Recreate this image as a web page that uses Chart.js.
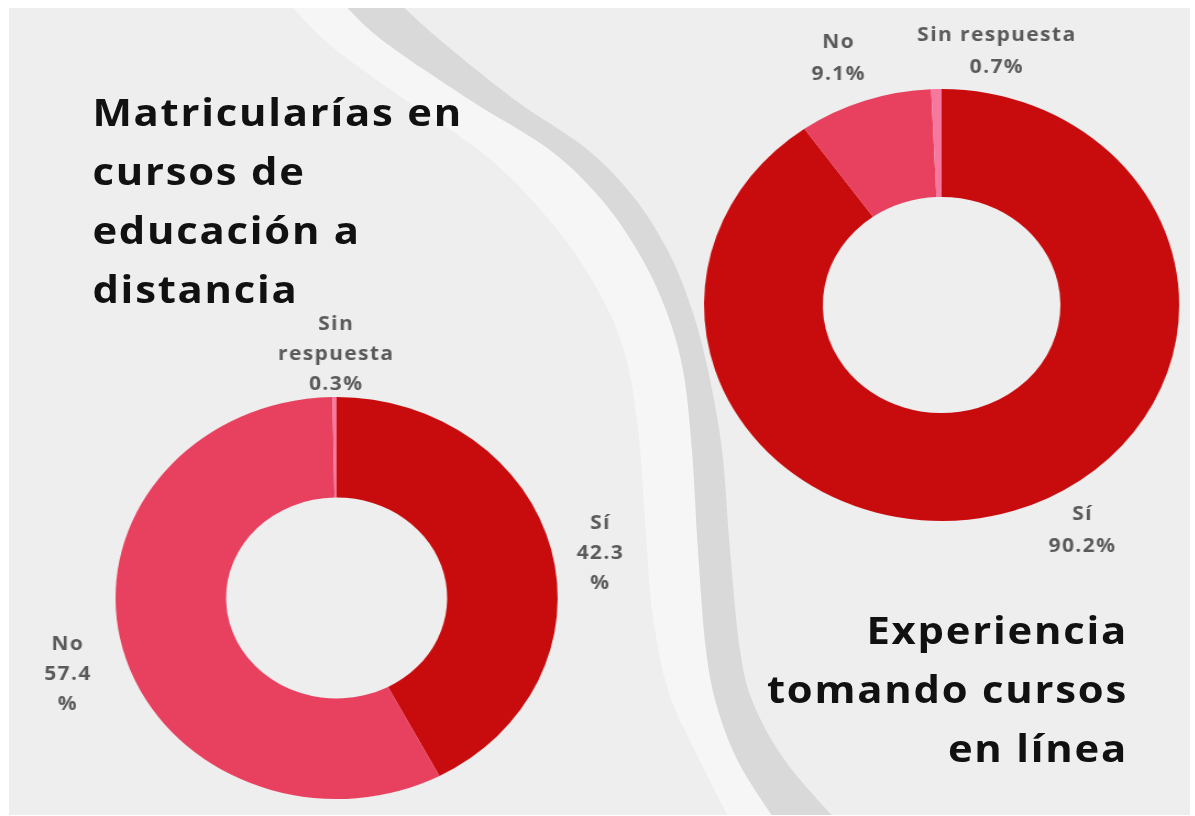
<!DOCTYPE html>
<html>
<head>
<meta charset="utf-8">
<script src="https://cdn.jsdelivr.net/npm/chart.js@4/dist/chart.umd.min.js"></script>
<style>
  html, body { margin: 0; padding: 0; background: #ffffff; overflow: hidden; width: 1195px; height: 816px; }
  #bg { position: absolute; left: 0; top: 0; }
  #stage { position: absolute; left: 0; top: 0; width: 1086.4px; height: 816px; transform: scaleX(1.1); transform-origin: 0 0; }
  .title { position: absolute; font-family: "Open Sans", sans-serif; font-weight: 700; font-size: 38px; line-height: 59px; color: #111; letter-spacing: 1.6px; white-space: nowrap; }
  #title1 { left: 84px; top: 82px; }
  #title2 { right: 61px; top: 600px; text-align: right; }
  .box { position: absolute; }
  #box1 { left: 6.4px; top: 298px; width: 600px; height: 600px; }
  #box2 { left: 536.4px; top: -15px; width: 640px; height: 640px; }
</style>
</head>
<body>
<canvas id="bg" width="1195" height="816"></canvas>
<div id="stage">
  <div class="title" id="title1">Matricularías en<br>cursos de<br>educación a<br>distancia</div>
  <div class="title" id="title2">Experiencia<br>tomando cursos<br>en línea</div>
  <div class="box" id="box1"><canvas id="chart1"></canvas></div>
  <div class="box" id="box2"><canvas id="chart2"></canvas></div>
</div>
<script>
// Chart data
const categories = ['Sí', 'No', 'Sin respuesta'];
const enrolledValues = [42.3, 57.4, 0.3];     // Matricularías en cursos de educación a distancia
const experienceValues = [90.2, 9.1, 0.7];    // Experiencia tomando cursos en línea
const sliceColors = ['#c80c0e', '#e8415f', '#f7789f'];

// Background panel and decorative bands
const bg = document.getElementById('bg').getContext('2d');
bg.fillStyle = '#eeeeee';
bg.fillRect(9, 8, 1181, 807);

function smoothPath(ctx, pts, moveFirst) {
  if (moveFirst) ctx.moveTo(pts[0][0], pts[0][1]);
  else ctx.lineTo(pts[0][0], pts[0][1]);
  for (let i = 0; i < pts.length - 1; i++) {
    const p0 = pts[i - 1] || pts[i], p1 = pts[i], p2 = pts[i + 1], p3 = pts[i + 2] || p2;
    ctx.bezierCurveTo(
      p1[0] + (p2[0] - p0[0]) / 6, p1[1] + (p2[1] - p0[1]) / 6,
      p2[0] - (p3[0] - p1[0]) / 6, p2[1] - (p3[1] - p1[1]) / 6,
      p2[0], p2[1]);
  }
}
function band(left, right, color) {
  bg.save();
  bg.beginPath();
  bg.rect(9, 8, 1181, 807);
  bg.clip();
  bg.beginPath();
  smoothPath(bg, left, true);
  smoothPath(bg, right.slice().reverse(), false);
  bg.closePath();
  bg.fillStyle = color;
  bg.fill();
  bg.restore();
}
const edgeL = [[286,0],[330,45],[405,100],[485,155],[545,215],[592,280],[624,350],[638,430],[645,520],[652,610],[668,690],[697,755],[730,820]];
const edgeM = [[340,0],[382,40],[470,100],[550,150],[602,200],[640,255],[666,310],[683,370],[692,450],[698,550],[706,650],[718,710],[740,765],[775,820]];
const edgeR = [[396,0],[440,40],[515,100],[588,150],[636,200],[670,255],[692,310],[708,370],[722,450],[730,550],[740,650],[754,705],[786,762],[836,820]];
band(edgeL, edgeM, '#f6f6f6');
band(edgeM, edgeR, '#d9d9d9');

// Outside labels drawn next to each slice
const outsideLabels = {
  id: 'outsideLabels',
  afterDatasetsDraw(chart, args, opts) {
    const ctx = chart.ctx;
    const meta = chart.getDatasetMeta(0);
    const values = chart.data.datasets[0].data;
    ctx.save();
    ctx.font = '700 19px "Open Sans"';
    ctx.letterSpacing = '1.3px';
    ctx.fillStyle = '#5a5a5a';
    ctx.textAlign = 'center';
    ctx.textBaseline = 'middle';
    meta.data.forEach((arc, i) => {
      const mid = (arc.startAngle + arc.endAngle) / 2;
      const r = arc.outerRadius + opts.gap;
      const nudge = opts.nudges[i];
      const x = arc.x + Math.cos(mid) * r + nudge[0];
      const y = arc.y + Math.sin(mid) * r + nudge[1];
      const label = chart.data.labels[i];
      const value = values[i].toFixed(1);
      let lines;
      if (opts.wrap) {
        lines = label.split(' ');
        if (ctx.measureText(value + '%').width <= opts.maxWidth) lines.push(value + '%');
        else lines.push(value, '%');
      } else {
        lines = [label, value + '%'];
      }
      const top = y - (lines.length - 1) * opts.lineHeight / 2;
      lines.forEach((t, k) => ctx.fillText(t, x, top + k * opts.lineHeight));
    });
    ctx.restore();
  }
};

function makeChart(id, values, pad, labelOpts) {
  return new Chart(document.getElementById(id), {
    type: 'doughnut',
    data: {
      labels: categories,
      datasets: [{
        data: values,
        backgroundColor: sliceColors,
        borderWidth: 0,
        hoverOffset: 0
      }]
    },
    options: {
      responsive: true,
      maintainAspectRatio: false,
      animation: false,
      cutout: '50%',
      layout: { padding: pad },
      plugins: {
        legend: { display: false },
        tooltip: { enabled: false },
        outsideLabels: labelOpts
      }
    },
    plugins: [outsideLabels]
  });
}

makeChart('chart1', enrolledValues, 99, {
  gap: 46, lineHeight: 30, wrap: true, maxWidth: 56,
  nudges: [[0, 15], [-5, 15], [2, 4]]
});
makeChart('chart2', experienceValues, 104, {
  gap: 45, lineHeight: 32, wrap: false, maxWidth: 0,
  nudges: [[49, -23], [-9, 1], [56, 8]]
});
</script>
</body>
</html>
